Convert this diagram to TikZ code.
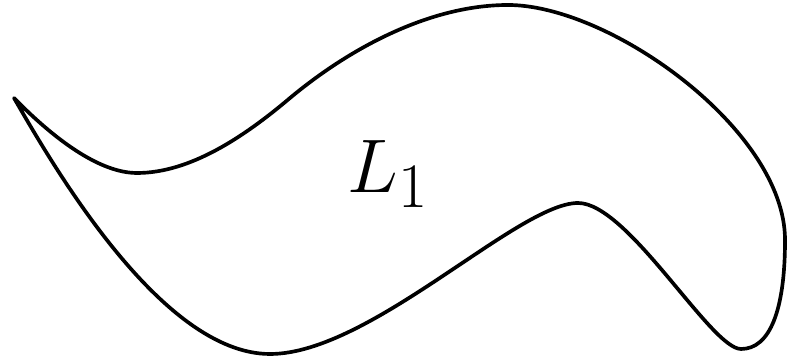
\documentclass[tikz,border=0pt]{standalone}
\usepackage{amsmath,amssymb}
\usepackage{tikz}
\usetikzlibrary{calc,positioning}
\tikzset{
  region/.style={black,line width=1.2pt,line join=round},
  lab/.style={font=\Huge,inner sep=0pt},
}
\begin{document}
\begin{tikzpicture}[x=1.15cm,y=1.15cm]
  \path[use as bounding box] (0,0) rectangle (7.88,3.60);
  % outline of the language
  \draw[region] (0.14,2.62)
    .. controls (0.55,2.20) and (1.00,1.87) .. (1.37,1.87)
    .. controls (1.90,1.87) and (2.44,2.23) .. (2.90,2.62)
    .. controls (3.50,3.12) and (4.30,3.55) .. (5.08,3.55)
    .. controls (6.10,3.55) and (7.85,2.30) .. (7.85,1.20)
    .. controls (7.85,0.50) and (7.70,0.11) .. (7.41,0.11)
    .. controls (7.11,0.11) and (6.28,1.57) .. (5.78,1.57)
    .. controls (5.18,1.57) and (3.70,0.06) .. (2.70,0.06)
    .. controls (1.60,0.06) and (0.50,2.00) .. (0.14,2.62) -- cycle;
  \node[lab,anchor=base west] (L1) at (3.47,1.67) {$L_1$};
\end{tikzpicture}
\end{document}
